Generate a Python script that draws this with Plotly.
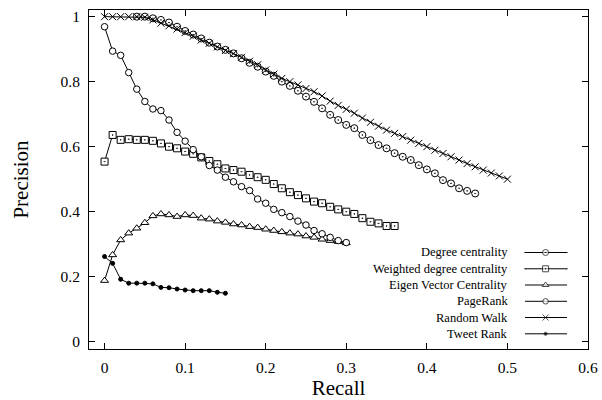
import plotly.graph_objects as go

# ---------------- data ----------------
names = ["Degree centrality", "Weighted degree centrality", "Eigen Vector Centrality",
         "PageRank", "Random Walk", "Tweet Rank"]

degree_x = [round(0.04 + 0.01 * i, 2) for i in range(43)]
degree_y = [1.0, 1.0, 0.995, 0.99, 0.982, 0.969, 0.956, 0.945, 0.933, 0.92,
            0.908, 0.898, 0.887, 0.872, 0.858, 0.846, 0.831, 0.818, 0.800, 0.787,
            0.772, 0.754, 0.738, 0.718, 0.698, 0.682, 0.667, 0.657, 0.636, 0.620,
            0.605, 0.595, 0.580, 0.569, 0.559, 0.543, 0.530, 0.518, 0.497, 0.487,
            0.472, 0.464, 0.456]

weighted_x = [round(0.01 * i, 2) for i in range(37)]
weighted_y = [0.554, 0.636, 0.621, 0.623, 0.621, 0.621, 0.618, 0.610, 0.600, 0.595,
              0.585, 0.578, 0.567, 0.556, 0.546, 0.533, 0.528, 0.523, 0.513, 0.506,
              0.498, 0.485, 0.472, 0.460, 0.451, 0.441, 0.431, 0.426, 0.415, 0.407,
              0.400, 0.393, 0.380, 0.369, 0.364, 0.356, 0.356]

eigen_x = [round(0.01 * i, 2) for i in range(31)]
eigen_y = [0.188, 0.267, 0.313, 0.334, 0.349, 0.366, 0.387, 0.393, 0.390, 0.385,
           0.390, 0.388, 0.380, 0.377, 0.371, 0.367, 0.362, 0.359, 0.354, 0.351,
           0.346, 0.342, 0.338, 0.334, 0.331, 0.325, 0.321, 0.315, 0.311, 0.308,
           0.304]

pagerank_x = [round(0.01 * i, 2) for i in range(31)]
pagerank_y = [0.969, 0.894, 0.881, 0.828, 0.777, 0.739, 0.716, 0.711, 0.682, 0.644,
              0.617, 0.591, 0.569, 0.542, 0.528, 0.506, 0.492, 0.477, 0.465, 0.439,
              0.426, 0.407, 0.397, 0.385, 0.371, 0.359, 0.342, 0.332, 0.321, 0.311,
              0.305]

random_x = [round(0.01 * i, 2) for i in range(51)]
random_y = [1.0, 1.0, 1.0, 1.0, 1.0, 0.998, 0.99, 0.98, 0.972, 0.962,
            0.951, 0.94, 0.928, 0.918, 0.907, 0.896, 0.886, 0.875, 0.863, 0.852,
            0.836, 0.823, 0.810, 0.800, 0.790, 0.779, 0.769, 0.756, 0.740, 0.727,
            0.715, 0.703, 0.688, 0.675, 0.663, 0.651, 0.641, 0.631, 0.620, 0.610,
            0.600, 0.589, 0.579, 0.569, 0.559, 0.548, 0.538, 0.528, 0.519, 0.510,
            0.500]

tweet_x = [round(0.01 * i, 2) for i in range(16)]
tweet_y = [0.262, 0.241, 0.192, 0.180, 0.180, 0.180, 0.178, 0.167, 0.166, 0.162,
           0.159, 0.157, 0.157, 0.157, 0.152, 0.149]

x_ticks = [0, 0.1, 0.2, 0.3, 0.4, 0.5, 0.6]
y_ticks = [0, 0.2, 0.4, 0.6, 0.8, 1]

# ---------------- styles ----------------
styles = [
    dict(symbol="circle-dot", size=7, color="white"),
    dict(symbol="square-dot", size=7, color="white"),
    dict(symbol="triangle-up", size=7, color="white"),
    dict(symbol="circle", size=6.5, color="white"),
    dict(symbol="x-thin", size=7, color="black"),
    dict(symbol="circle", size=4, color="black"),
]
series = [(degree_x, degree_y), (weighted_x, weighted_y), (eigen_x, eigen_y),
          (pagerank_x, pagerank_y), (random_x, random_y), (tweet_x, tweet_y)]

FONT = "Liberation Serif, Times New Roman, serif"

fig = go.Figure()
for (xs, ys), st, nm in zip(series, styles, names):
    fig.add_trace(go.Scatter(
        x=xs, y=ys, mode="lines+markers", name=nm, showlegend=False,
        line=dict(color="black", width=1),
        marker=dict(symbol=st["symbol"], size=st["size"], color=st["color"],
                    line=dict(color="black", width=1)),
    ))

# ---------------- custom gnuplot-style legend ----------------
row_y = [0.2847, 0.2366, 0.1888, 0.1407, 0.0929, 0.0448]
text_x = 0.8437
line_x0, line_xm, line_x1 = 0.8737, 0.915, 0.958
for nm, st, ry in zip(names, styles, row_y):
    fig.add_trace(go.Scatter(
        x=[line_x0, line_xm, line_x1], y=[ry, ry, ry], xaxis="x2", yaxis="y2",
        mode="lines+markers", showlegend=False, hoverinfo="skip",
        line=dict(color="black", width=1),
        marker=dict(symbol=st["symbol"], size=[0, st["size"] - 1, 0], color=st["color"],
                    line=dict(color="black", width=1)),
    ))
    fig.add_annotation(x=text_x, y=ry, xref="paper", yref="paper", text=nm,
                       showarrow=False, xanchor="right", yanchor="middle",
                       font=dict(family=FONT, size=12.5, color="black"))

axis_common = dict(showline=True, linecolor="black", linewidth=1, mirror="allticks",
                   ticks="inside", ticklen=6, tickcolor="black", tickwidth=1,
                   showgrid=False, zeroline=False, automargin=False,
                   tickfont=dict(family=FONT, size=15.5, color="black"))

fig.update_layout(
    width=602, height=400,
    margin=dict(l=89, r=14, t=10, b=51),
    plot_bgcolor="white", paper_bgcolor="white",
    xaxis=dict(range=[-0.0193, 0.6], tickvals=x_ticks,
               ticktext=[str(v) for v in x_ticks], ticklabelstandoff=4,
               title=dict(text="Recall", font=dict(family=FONT, size=21, color="black"),
                          standoff=3),
               **axis_common),
    yaxis=dict(range=[-0.0225, 1.0205], tickvals=y_ticks,
               ticktext=[str(v) for v in y_ticks], ticklabelstandoff=5,
               title=dict(text="Precision", font=dict(family=FONT, size=21, color="black"),
                          standoff=26),
               **axis_common),
    xaxis2=dict(range=[0, 1], overlaying="x", visible=False, fixedrange=True),
    yaxis2=dict(range=[0, 1], overlaying="y", visible=False, fixedrange=True),
)

fig.write_html("out.html")
